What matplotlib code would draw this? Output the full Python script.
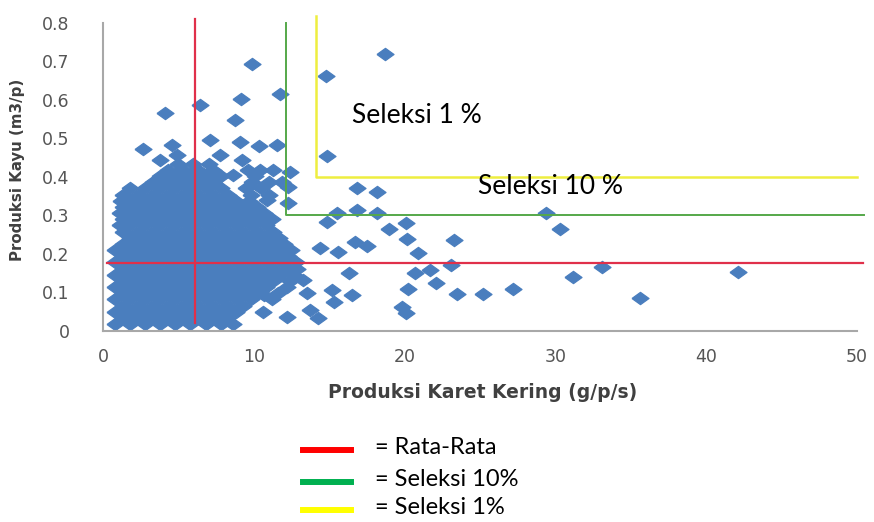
import matplotlib
matplotlib.use('Agg')
import matplotlib.pyplot as plt
from matplotlib.lines import Line2D

# ---------------- data ----------------
# dense cluster, listed row by row (y level, x values)
row_y = [0.018, 0.034, 0.050, 0.066, 0.082, 0.098, 0.114, 0.130, 0.146, 0.162,
         0.178, 0.194, 0.210, 0.226, 0.242, 0.258, 0.274, 0.290, 0.306, 0.322,
         0.338, 0.354, 0.370, 0.386, 0.402, 0.418, 0.434]
row_x = [
    [0.8, 1.8, 2.8, 3.8, 4.8, 5.8, 6.8, 7.8, 8.6],
    [1.3, 2.3, 3.3, 4.3, 5.3, 6.3, 7.3, 8.2],
    [0.8, 1.8, 2.8, 3.8, 4.8, 5.8, 6.8, 7.8, 8.8, 10.6],
    [1.3, 2.3, 3.3, 4.3, 5.3, 6.3, 7.3, 8.3, 9.3],
    [0.8, 1.8, 2.8, 3.8, 4.8, 5.8, 6.8, 7.8, 8.8, 9.8, 11.2],
    [1.3, 2.3, 3.3, 4.3, 5.3, 6.3, 7.3, 8.3, 9.3, 10.3, 11.6],
    [0.8, 1.8, 2.8, 3.8, 4.8, 5.8, 6.8, 7.8, 8.8, 9.8, 10.8, 12.2],
    [1.3, 2.3, 3.3, 4.3, 5.3, 6.3, 7.3, 8.3, 9.3, 10.3, 11.3, 12.4],
    [0.8, 1.8, 2.8, 3.8, 4.8, 5.8, 6.8, 7.8, 8.8, 9.8, 10.8, 11.8, 12.7],
    [1.3, 2.3, 3.3, 4.3, 5.3, 6.3, 7.3, 8.3, 9.3, 10.3, 11.3, 12.3, 12.9],
    [0.8, 1.8, 2.8, 3.8, 4.8, 5.8, 6.8, 7.8, 8.8, 9.8, 10.8, 11.8, 12.8],
    [1.3, 2.3, 3.3, 4.3, 5.3, 6.3, 7.3, 8.3, 9.3, 10.3, 11.3, 12.3],
    [0.8, 1.8, 2.8, 3.8, 4.8, 5.8, 6.8, 7.8, 8.8, 9.8, 10.8, 11.8, 12.5],
    [1.3, 2.3, 3.3, 4.3, 5.3, 6.3, 7.3, 8.3, 9.3, 10.3, 11.3, 12.0],
    [1.8, 2.8, 3.8, 4.8, 5.8, 6.8, 7.8, 8.8, 9.8, 10.8, 11.7],
    [1.3, 2.3, 3.3, 4.3, 5.3, 6.3, 7.3, 8.3, 9.3, 10.3, 11.3],
    [1.1, 1.8, 2.8, 3.8, 4.8, 5.8, 6.8, 7.8, 8.8, 9.8, 10.8],
    [1.3, 2.3, 3.3, 4.3, 5.3, 6.3, 7.3, 8.3, 9.3, 10.3, 11.2],
    [1.1, 1.8, 2.8, 3.8, 4.8, 5.8, 6.8, 7.8, 8.8, 9.8, 10.7],
    [1.3, 2.3, 3.3, 4.3, 5.3, 6.3, 7.3, 8.3, 9.3, 10.2],
    [1.2, 1.8, 2.8, 3.8, 4.8, 5.8, 6.8, 7.8, 8.8, 9.7],
    [1.3, 2.3, 3.3, 4.3, 5.3, 6.3, 7.3, 8.3, 9.8, 11.0],
    [1.8, 2.8, 3.8, 4.8, 5.8, 6.8, 7.8, 9.5, 10.5],
    [3.3, 4.3, 5.3, 6.3, 7.3, 9.9, 11.0, 11.9],
    [3.8, 4.8, 5.8, 6.8, 7.8, 10.1],
    [4.3, 5.3, 6.3, 7.3, 9.6, 11.3],
    [5.0, 6.0, 7.0],
]

# scattered points
sc_x = [4.11, 6.43, 2.67, 4.55, 7.1, 3.78, 4.88, 9.86, 11.74, 9.13, 8.75, 9.08,
        10.37, 11.56, 7.76, 9.2, 10.41, 12.4, 8.64, 12.3, 12.3, 10.85,
        14.83, 16.87, 18.19, 16.87, 18.19, 15.5, 14.83, 18.99, 20.09, 20.18,
        23.28, 14.39, 15.6, 16.7, 17.5, 20.9, 23.1, 20.7, 21.7, 16.33, 22.1,
        20.25, 23.45, 15.2, 16.5, 15.3, 19.8, 20.1, 29.38, 30.3, 33.07, 31.15,
        27.2, 25.2, 35.6, 42.1, 18.7, 14.79, 13.28, 13.5, 13.73, 14.28, 12.18,
        10.7]
sc_y = [0.565, 0.586, 0.471, 0.483, 0.496, 0.444, 0.457, 0.693, 0.615, 0.601,
        0.547, 0.491, 0.480, 0.483, 0.457, 0.444, 0.418, 0.413, 0.405, 0.374,
        0.331, 0.340,
        0.454, 0.370, 0.361, 0.314, 0.305, 0.305, 0.284, 0.264, 0.281, 0.238,
        0.236, 0.216, 0.206, 0.232, 0.221, 0.203, 0.171, 0.151, 0.158, 0.151,
        0.124, 0.108, 0.096, 0.106, 0.093, 0.076, 0.063, 0.046, 0.305, 0.264,
        0.167, 0.139, 0.110, 0.096, 0.085, 0.154, 0.720, 0.662, 0.132, 0.098,
        0.054, 0.033, 0.037, 0.093]

# threshold lines
mean_x, mean_y = 6.1, 0.177
sel10_x, sel10_y = 12.15, 0.30
sel1_x, sel1_y = 14.15, 0.40

x_ticks = [0, 10, 20, 30, 40, 50]
y_ticks = [0, 0.1, 0.2, 0.3, 0.4, 0.5, 0.6, 0.7, 0.8]
y_tick_labels = ['0', '0.1', '0.2', '0.3', '0.4', '0.5', '0.6', '0.7', '0.8']

legend_labels = ['= Rata-Rata', '= Seleksi 10%', '= Seleksi 1%']
legend_colors = ['#FF0000', '#00B050', '#FFFF00']

# ---------------- plot ----------------
all_x = [x for xs in row_x for x in xs] + sc_x
all_y = [y for y, xs in zip(row_y, row_x) for _ in xs] + sc_y

fig = plt.figure(figsize=(8.74, 5.22), dpi=100)
ax = fig.add_axes([0.1178, 0.3659, 0.8627, 0.5906])

blue = '#4A7EBE'
diamond = [(-1, 0), (0, 0.72), (1, 0), (0, -0.72), (-1, 0)]
ax.scatter(all_x, all_y, marker=diamond, s=150, color=blue, edgecolors=blue,
           linewidths=0.9, zorder=2, clip_on=False)

red = '#E0304A'
green = '#55A84A'
yellow = '#EEEE40'
ax.plot([mean_x, mean_x], [0.02, 0.81], color=red, lw=1.6, zorder=3, clip_on=False)
ax.plot([0.3, 50.4], [mean_y, mean_y], color=red, lw=1.6, zorder=3, clip_on=False)
ax.plot([sel10_x, sel10_x, 50.5], [0.80, sel10_y, sel10_y], color=green, lw=1.4,
        zorder=3, clip_on=False)
ax.plot([sel1_x, sel1_x, 50.0], [0.817, sel1_y, sel1_y], color=yellow, lw=1.8,
        zorder=3, clip_on=False)

ax.set_xlim(0, 50)
ax.set_ylim(0, 0.8)
ax.set_xticks(x_ticks)
ax.set_yticks(y_ticks)
ax.set_yticklabels(y_tick_labels)
ax.tick_params(length=0, labelsize=12.5, labelcolor='#555555')
ax.tick_params(axis='y', pad=24)
ax.tick_params(axis='x', pad=12)
for sp in ['top', 'right']:
    ax.spines[sp].set_visible(False)
for sp in ['left', 'bottom']:
    ax.spines[sp].set_color('#A8A8A8')
    ax.spines[sp].set_linewidth(1.5)

ax.set_xlabel('Produksi Karet Kering (g/p/s)', fontsize=13.5, fontweight='bold',
              color='#404040')
ax.set_ylabel('Produksi Kayu (m3/p)', fontsize=10.8, fontweight='bold', color='#404040')
ax.xaxis.set_label_coords(0.503, -0.169)
ax.yaxis.set_label_coords(-0.103, 0.522)

ax.text(16.5, 0.558, 'Seleksi 1 %', fontsize=19, family='Lato', va='center',
        ha='left', color='black', zorder=5)
ax.text(24.85, 0.374, 'Seleksi 10 %', fontsize=19, family='Lato', va='center',
        ha='left', color='black', zorder=5)

leg_y = [0.1379, 0.0772, 0.023]
for lab, col, yy in zip(legend_labels, legend_colors, leg_y):
    fig.add_artist(Line2D([0.3463, 0.4016], [yy, yy], color=col, lw=4.3,
                          transform=fig.transFigure))
    fig.text(0.429, yy + 0.005, lab, fontsize=17, family='Lato', va='center',
             ha='left', color='black')

fig.savefig('out.png', dpi=100)
